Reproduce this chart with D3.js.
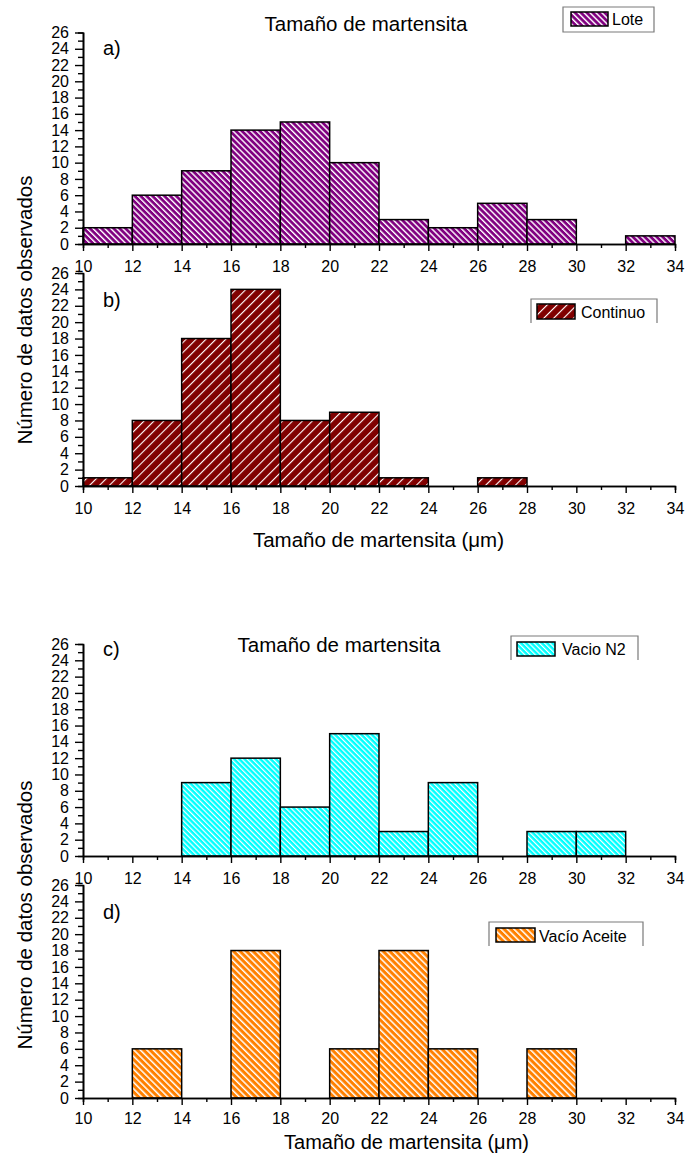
<!DOCTYPE html>
<html>
<head>
<meta charset="utf-8">
<script src="https://cdn.jsdelivr.net/npm/d3@7"></script>
<style>
  html, body { margin: 0; padding: 0; background: #fff; }
  svg { display: block; font-family: Arial, "Liberation Sans", sans-serif; }
</style>
</head>
<body>
<svg id="chart" width="686" height="1156"></svg>
<script>
// Histogram bins (µm), lower edges, 2 µm wide
const binStarts = [10, 12, 14, 16, 18, 20, 22, 24, 26, 28, 30, 32];
const binWidth = 2;

// Observed counts per bin for each treatment
const loteCounts     = [2, 6, 9, 14, 15, 10, 3, 2, 5, 3, 0, 1];
const continuoCounts = [1, 8, 18, 24, 8, 9, 1, 0, 1, 0, 0, 0];
const vacioN2Counts  = [0, 0, 9, 12, 6, 15, 3, 9, 0, 3, 3, 0];
const aceiteCounts   = [0, 6, 0, 18, 0, 6, 18, 6, 0, 6, 0, 0];

// Axis ticks
const xMajorTicks = [10, 12, 14, 16, 18, 20, 22, 24, 26, 28, 30, 32, 34];
const yMajorTicks = [0, 2, 4, 6, 8, 10, 12, 14, 16, 18, 20, 22, 24, 26];

const titleText = "Tamaño de martensita";
const xTitleText = "Tamaño de martensita (μm)";
const yTitleText = "Número de datos observados";

const svg = d3.select("#chart");
const defs = svg.append("defs");

// Hatched fills: coloured ground with white diagonal stripes
function hatch(id, color, spacing, lineW, angle) {
  const p = defs.append("pattern")
    .attr("id", id)
    .attr("patternUnits", "userSpaceOnUse")
    .attr("width", spacing)
    .attr("height", spacing)
    .attr("patternTransform", `rotate(${angle})`);
  p.append("rect").attr("width", spacing).attr("height", spacing).attr("fill", color);
  p.append("rect").attr("x", 0).attr("width", lineW).attr("height", spacing).attr("fill", "#fff");
}
hatch("h-lote", "#800080", 4.2, 1.4, -45);
hatch("h-cont", "#800000", 7.0, 1.1, 45);
hatch("h-n2", "#00FFFF", 3.7, 1.2, -45);
hatch("h-ace", "#FF8000", 4.6, 1.5, -45);

const x = d3.scaleLinear().domain([10, 34]).range([83, 675]);

const panels = [
  { counts: loteCounts,     fill: "url(#h-lote)", y0: 244,  y1: 32.5, label: "a)", labelY: 55, pad: 10,
    legend: { name: "Lote", box: [563, 7, 654, 32], sw: [571, 12, 608, 26], tx: 612, ty: 25, closed: true } },
  { counts: continuoCounts, fill: "url(#h-cont)", y0: 486,  y1: 273,  label: "b)", labelY: 307, pad: 10,
    legend: { name: "Continuo", box: [531, 299, 657, 323], sw: [537, 304, 575, 319], tx: 581, ty: 318, closed: false } },
  { counts: vacioN2Counts,  fill: "url(#h-n2)",   y0: 856,  y1: 644,  label: "c)", labelY: 656, pad: 10,
    legend: { name: "Vacio N2", box: [511, 636, 638, 660], sw: [517, 642, 555, 656], tx: 562, ty: 655, closed: false } },
  { counts: aceiteCounts,   fill: "url(#h-ace)",  y0: 1098, y1: 885,  label: "d)", labelY: 919, pad: 8,
    legend: { name: "Vacío Aceite", box: [489, 922, 643, 946], sw: [496, 928, 535, 942], tx: 539, ty: 942, closed: false } }
];

panels.forEach(pn => {
  const y = d3.scaleLinear().domain([0, 26]).range([pn.y0, pn.y1]);
  const g = svg.append("g");

  const bins = binStarts.map((s, i) => ({ start: s, count: pn.counts[i] })).filter(d => d.count > 0);
  g.selectAll("rect.bar").data(bins).join("rect")
    .attr("class", "bar")
    .attr("x", d => x(d.start))
    .attr("width", d => x(d.start + binWidth) - x(d.start))
    .attr("y", d => y(d.count))
    .attr("height", d => y(0) - y(d.count))
    .attr("fill", pn.fill)
    .attr("stroke", "#000")
    .attr("stroke-width", 1.5);

  // bottom axis: major labelled ticks + minor ticks
  const xMinor = g.append("g").attr("transform", `translate(0,${pn.y0})`)
    .call(d3.axisBottom(x).tickValues(d3.range(11, 34, 2)).tickSize(4).tickFormat(""));
  const xMajor = g.append("g").attr("transform", `translate(0,${pn.y0})`)
    .call(d3.axisBottom(x).tickValues(xMajorTicks).tickSize(7).tickPadding(pn.pad).tickSizeOuter(0));
  // left axis
  const yMinor = g.append("g").attr("transform", `translate(83,0)`)
    .call(d3.axisLeft(y).tickValues(d3.range(1, 26, 2)).tickSize(5).tickFormat(""));
  const yMajor = g.append("g").attr("transform", `translate(83,0)`)
    .call(d3.axisLeft(y).tickValues(yMajorTicks).tickSize(8).tickPadding(6).tickSizeOuter(0));

  [xMinor, xMajor, yMinor, yMajor].forEach(a => {
    a.selectAll("path.domain").attr("stroke", "#000").attr("stroke-width", 1.6);
    a.selectAll(".tick line").attr("stroke", "#000").attr("stroke-width", 1.4);
    a.selectAll(".tick text").attr("fill", "#000").style("font-size", "16px")
      .style("font-family", "Arial, 'Liberation Sans', sans-serif");
  });

  // panel tag
  g.append("text").attr("x", 103).attr("y", pn.labelY)
    .style("font-size", "20px").attr("fill", "#000").text(pn.label);

  // legend
  const L = pn.legend;
  const [bx0, by0, bx1, by1] = L.box;
  const boxPath = L.closed
    ? `M${bx0},${by0}H${bx1}V${by1}H${bx0}Z`
    : `M${bx0},${by1}V${by0}H${bx1}V${by1}`;
  g.append("path").attr("d", boxPath).attr("fill", L.closed ? "#fff" : "none")
    .attr("stroke", "#7a7a7a").attr("stroke-width", 1.2);
  const [sx0, sy0, sx1, sy1] = L.sw;
  g.append("rect").attr("x", sx0).attr("y", sy0).attr("width", sx1 - sx0).attr("height", sy1 - sy0)
    .attr("fill", pn.fill).attr("stroke", "#000").attr("stroke-width", 1.5);
  g.append("text").attr("x", L.tx).attr("y", L.ty).style("font-size", "16px")
    .attr("fill", "#000").text(L.name);
});

// titles
svg.append("text").attr("x", 366).attr("y", 31).attr("text-anchor", "middle")
  .style("font-size", "20.5px").text(titleText);
svg.append("text").attr("x", 339).attr("y", 652).attr("text-anchor", "middle")
  .style("font-size", "20.5px").text(titleText);

// x axis titles
svg.append("text").attr("x", 378.5).attr("y", 547).attr("text-anchor", "middle")
  .style("font-size", "20.5px").text(xTitleText);
svg.append("text").attr("x", 406.5).attr("y", 1149).attr("text-anchor", "middle")
  .style("font-size", "20px").text(xTitleText);

// y axis titles
[310, 915].forEach(cy => {
  svg.append("text").attr("transform", `translate(32,${cy}) rotate(-90)`)
    .attr("text-anchor", "middle").style("font-size", "20.5px").text(yTitleText);
});
</script>
</body>
</html>
